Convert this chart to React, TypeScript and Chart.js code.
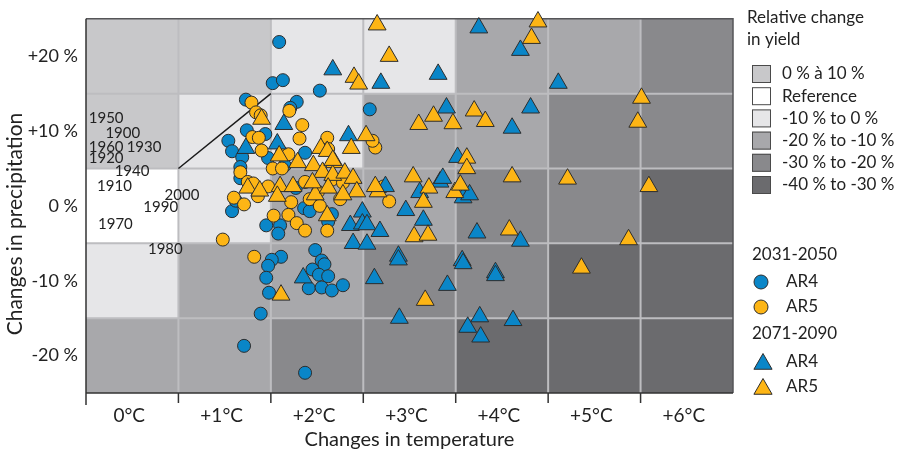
import React, { useEffect, useRef } from 'react';
import { Chart, registerables } from 'chart.js';

Chart.register(...registerables);

const FONT_FAMILY = 'Lato, "Open Sans", "DejaVu Sans", sans-serif';
const TEXT = '#222222';
const BLUE = '#0a86c8';
const ORANGE = '#fdb515';
const MARK_BORDER = '#2d2d2d';

// Axes
const tempTicks = [0, 1, 2, 3, 4, 5, 6];
const tempTickLabels = ['0°C', '+1°C', '+2°C', '+3°C', '+4°C', '+5°C', '+6°C'];
const precipTicks = [-20, -10, 0, 10, 20];
const precipTickLabels = ['-20 %', '-10 %', '0 %', '+10 %', '+20 %'];
const xTitle = 'Changes in temperature';
const yTitle = 'Changes in precipitation';

// Yield-change grid (cells)
const tempEdges = [-0.5, 0.5, 1.5, 2.5, 3.5, 4.5, 5.5, 6.5];
const precipEdges = [25, 15, 5, -5, -15, -25];
const yieldClassLabels = ['0 % à 10 %', 'Reference', '-10 % to 0 %', '-20 % to -10 %', '-30 % to -20 %', '-40 % to -30 %'];
const yieldClassColors = ['#c8c8ca', '#ffffff', '#e6e6e8', '#a8a8ab', '#89898c', '#6b6b6e'];
const yieldRow1 = [0, 0, 2, 2, 3, 3, 4];
const yieldRow2 = [0, 2, 2, 3, 3, 4, 4];
const yieldRow3 = [1, 2, 3, 3, 4, 4, 5];
const yieldRow4 = [2, 3, 3, 4, 4, 5, 5];
const yieldRow5 = [3, 3, 4, 4, 5, 5, 5];
const yieldGrid = [yieldRow1, yieldRow2, yieldRow3, yieldRow4, yieldRow5];

// Historical years (text anchors: temperature, precipitation)
const yearLabels = ['1950', '1900', '1960', '1930', '1920', '1940', '1910', '2000', '1990', '1970', '1980'];
const yearTemps = [-0.47, -0.29, -0.47, -0.06, -0.47, -0.19, -0.38, 0.35, 0.12, -0.37, 0.17];
const yearPrecips = [11.7, 9.7, 7.9, 7.9, 6.4, 4.7, 2.7, 1.4, -0.2, -2.4, -5.8];

// Reference diagonal
const referenceLine = [[0.5, 5], [1.5, 15]];

// 2031-2050 AR4 (blue circles) [temperature °C, precipitation %]
const ar4Near = [
  [1.59, 21.9], [1.52, 16.4], [1.63, 16.8], [2.03, 15.4], [2.57, 12.9], [1.23, 14.2], [1.78, 13.9], [1.71, 13.1],
  [1.04, 8.7], [1.08, 7.3], [1.24, 10.1], [1.44, 9.6], [1.19, 6.5], [1.17, 5.2], [1.87, 7.1], [1.47, 6.4],
  [1.17, 3.7], [1.08, -0.7], [1.45, -2.6], [1.60, -2.6], [1.58, -3.7], [1.86, -0.3], [1.92, -0.7], [2.16, -1.1],
  [1.98, -5.9], [1.61, -6.8], [1.51, -7.2], [1.47, -8.0], [1.45, -9.6], [1.48, -11.6], [1.39, -14.4], [1.21, -18.7],
  [1.87, -22.3], [2.05, -7.3], [2.08, -7.8], [1.95, -8.5], [2.02, -9.2], [2.12, -9.4], [1.91, -11.0], [2.05, -10.9],
  [2.16, -11.3], [2.28, -10.6], [1.65, 5.4], [1.12, 0.7], [1.77, 2.4], [2.12, -2.1],
];

// 2031-2050 AR5 (orange circles)
const ar5Near = [
  [1.29, 13.8], [1.34, 12.5], [1.39, 12.1], [1.70, 12.7], [1.84, 10.8], [1.30, 9.2], [1.37, 9.1], [1.40, 7.4],
  [1.81, 9.0], [2.11, 9.1], [1.62, 7.1], [1.69, 6.9], [1.52, 5.0], [1.62, 5.0], [1.17, 4.5], [1.87, 3.2],
  [1.25, 3.2], [1.31, 3.0], [1.47, 2.6], [1.10, 1.1], [1.21, 0.2], [1.72, 0.5], [1.53, -1.3], [1.69, -1.2],
  [1.78, -2.3], [1.87, -3.3], [1.92, 0.9], [2.03, 0.0], [2.11, -3.3], [0.98, -4.5], [1.32, -6.8], [2.63, 7.8],
  [2.60, 8.7], [2.78, 0.6], [2.16, 3.5], [2.28, 3.1], [2.72, 2.6], [2.12, 7.6], [2.01, 1.9], [1.36, 1.3], [2.25, 0.9],
];

// 2071-2090 AR4 (blue triangles)
const ar4Far = [
  [2.17, 18.2], [2.69, 16.4], [3.31, 17.6], [3.75, 23.8], [4.20, 20.8], [4.61, 16.4], [3.40, 13.1], [4.31, 13.1],
  [4.11, 10.4], [2.34, 9.4], [1.64, 10.9], [1.57, 8.3], [1.23, 7.7], [3.52, 6.5], [3.33, 3.2], [3.36, 3.7],
  [3.58, 1.1], [3.65, 1.5], [3.11, 1.8], [2.96, -0.6], [2.74, 2.6], [2.49, -0.8], [2.36, -2.6], [2.49, -2.4],
  [2.54, -2.5], [2.68, -3.4], [2.39, -5.0], [2.54, -5.1], [3.15, -1.9], [2.88, -6.7], [2.88, -7.2], [2.62, -9.7],
  [3.57, -7.3], [3.58, -7.7], [3.41, -10.6], [3.73, -3.6], [4.20, -4.7], [3.93, -8.9], [3.93, -9.3], [2.89, -15.0],
  [3.76, -14.8], [3.63, -16.2], [3.77, -17.5], [4.12, -15.3], [1.85, -9.6],
];

// 2071-2090 AR5 (orange triangles)
const ar5Far = [
  [2.65, 24.2], [2.78, 20.0], [4.39, 24.6], [4.32, 22.4], [2.40, 17.2], [2.45, 16.3], [3.26, 12.0], [3.10, 10.9],
  [3.47, 11.0], [3.70, 12.7], [3.82, 11.3], [5.51, 14.4], [5.47, 11.2], [2.53, 9.4], [2.37, 7.7], [1.40, 11.6],
  [3.62, 6.4], [3.62, 5.0], [4.11, 3.9], [4.71, 3.6], [5.59, 2.6], [3.04, 3.9], [3.21, 2.4], [3.49, 1.8],
  [3.55, 2.8], [3.15, 0.5], [2.66, 1.9], [3.05, -4.1], [3.20, -3.9], [4.08, -3.2], [5.37, -4.5], [4.86, -8.3],
  [3.17, -12.6], [1.61, -11.9], [2.04, 7.7], [2.11, 7.3], [1.59, 6.7], [2.19, 5.8], [1.79, 5.8], [1.96, 5.4],
  [1.60, 2.6], [1.74, 2.6], [2.06, 4.5], [2.17, 4.1], [2.30, 4.4], [2.39, 3.7], [1.25, 2.4], [1.38, 2.0],
  [1.57, 1.3], [1.98, 1.5], [2.12, 2.4], [2.43, 1.9], [2.63, 2.6], [2.28, 1.5], [2.11, -1.3], [2.17, 6.1], [1.95, 3.1],
];

const toXY = (arr: number[][]) => arr.map(([x, y]) => ({ x, y }));

function trianglePath(ctx: CanvasRenderingContext2D, x: number, y: number, r: number) {
  ctx.beginPath();
  ctx.moveTo(x, y - r);
  ctx.lineTo(x + r * 0.866, y + r / 2);
  ctx.lineTo(x - r * 0.866, y + r / 2);
  ctx.closePath();
}

const gridPlugin = {
  id: 'yieldGrid',
  beforeDatasetsDraw(chart: any) {
    const { ctx, chartArea: a, scales } = chart;
    const xs = scales.x;
    const ys = scales.y;
    ctx.save();
    yieldGrid.forEach((row, r) =>
      row.forEach((cls, c) => {
        const x0 = xs.getPixelForValue(tempEdges[c]);
        const x1 = xs.getPixelForValue(tempEdges[c + 1]);
        const y0 = ys.getPixelForValue(precipEdges[r]);
        const y1 = ys.getPixelForValue(precipEdges[r + 1]);
        ctx.fillStyle = yieldClassColors[cls];
        ctx.fillRect(x0, y0, x1 - x0, y1 - y0);
      })
    );
    ctx.strokeStyle = '#bdbdc0';
    ctx.lineWidth = 2;
    ctx.beginPath();
    for (let i = 1; i < tempEdges.length - 1; i++) {
      const px = xs.getPixelForValue(tempEdges[i]);
      ctx.moveTo(px, a.top);
      ctx.lineTo(px, a.bottom);
    }
    for (let i = 1; i < precipEdges.length - 1; i++) {
      const py = ys.getPixelForValue(precipEdges[i]);
      ctx.moveTo(a.left, py);
      ctx.lineTo(a.right, py);
    }
    ctx.stroke();

    ctx.strokeStyle = '#555558';
    ctx.lineWidth = 1.5;
    ctx.beginPath();
    ctx.moveTo(a.left, a.top);
    ctx.lineTo(a.right, a.top);
    ctx.lineTo(a.right, a.bottom);
    ctx.stroke();

    ctx.strokeStyle = '#333333';
    ctx.beginPath();
    ctx.moveTo(a.left, a.top);
    ctx.lineTo(a.left, a.bottom + 12);
    ctx.moveTo(a.left, a.bottom);
    ctx.lineTo(a.right, a.bottom);
    for (let i = 1; i < tempEdges.length - 1; i++) {
      const px = xs.getPixelForValue(tempEdges[i]);
      ctx.moveTo(px, a.bottom);
      ctx.lineTo(px, a.bottom + 10);
    }
    ctx.stroke();

    ctx.fillStyle = TEXT;
    ctx.font = `15px ${FONT_FAMILY}`;
    ctx.textAlign = 'left';
    ctx.textBaseline = 'middle';
    yearLabels.forEach((t, i) => {
      ctx.fillText(t, xs.getPixelForValue(yearTemps[i]), ys.getPixelForValue(yearPrecips[i]));
    });
    ctx.restore();
  },
  afterDraw(chart: any) {
    const { ctx, chartArea: a } = chart;
    ctx.save();
    // y-axis title
    ctx.fillStyle = TEXT;
    ctx.font = `21px ${FONT_FAMILY}`;
    ctx.textAlign = 'center';
    ctx.textBaseline = 'middle';
    ctx.translate(15, 224);
    ctx.rotate(-Math.PI / 2);
    ctx.fillText(yTitle, 0, 0);
    ctx.restore();

    const lx = a.right + 14;
    ctx.save();
    ctx.fillStyle = TEXT;
    ctx.font = `17px ${FONT_FAMILY}`;
    ctx.textAlign = 'left';
    ctx.textBaseline = 'middle';
    ctx.fillText('Relative change', lx, 18);
    ctx.fillText('in yield', lx, 40);
    yieldClassLabels.forEach((label, i) => {
      const cy = 74 + i * 22.2;
      ctx.fillStyle = yieldClassColors[i];
      ctx.fillRect(lx + 5, cy - 9, 19, 18);
      ctx.strokeStyle = '#4a4a4a';
      ctx.lineWidth = 1;
      ctx.strokeRect(lx + 5.5, cy - 8.5, 18, 17);
      ctx.fillStyle = TEXT;
      ctx.fillText(label, lx + 35, cy);
    });

    const series = [
      { head: '2031-2050', y: 255 },
      { shape: 'circle', color: BLUE, label: 'AR4', y: 282 },
      { shape: 'circle', color: ORANGE, label: 'AR5', y: 307 },
      { head: '2071-2090', y: 334 },
      { shape: 'triangle', color: BLUE, label: 'AR4', y: 362 },
      { shape: 'triangle', color: ORANGE, label: 'AR5', y: 387 },
    ];
    series.forEach((s: any) => {
      ctx.fillStyle = TEXT;
      if (s.head) {
        ctx.fillText(s.head, lx + 5, s.y);
        return;
      }
      ctx.fillStyle = s.color;
      ctx.strokeStyle = MARK_BORDER;
      ctx.lineWidth = 1;
      if (s.shape === 'circle') {
        ctx.beginPath();
        ctx.arc(lx + 14, s.y, 7, 0, Math.PI * 2);
      } else {
        trianglePath(ctx, lx + 16, s.y + 2, 10.5);
      }
      ctx.fill();
      ctx.stroke();
      ctx.fillStyle = TEXT;
      ctx.fillText(s.label, lx + 39, s.y);
    });
    ctx.restore();
  },
};

export default function App() {
  const ref = useRef<HTMLCanvasElement>(null);
  useEffect(() => {
    const pointBase = { borderColor: MARK_BORDER, borderWidth: 1, clip: false as any };
    const chart = new Chart(ref.current as HTMLCanvasElement, {
      type: 'scatter',
      data: {
        datasets: [
          {
            type: 'line',
            label: 'Reference line',
            data: toXY(referenceLine),
            borderColor: '#1a1a1a',
            borderWidth: 1.5,
            pointRadius: 0,
            showLine: true,
            fill: false,
            order: 5,
            clip: false as any,
          } as any,
          { label: '2031-2050 AR4', data: toXY(ar4Near), pointStyle: 'circle', pointRadius: 6.5, backgroundColor: BLUE, order: 4, ...pointBase },
          { label: '2031-2050 AR5', data: toXY(ar5Near), pointStyle: 'circle', pointRadius: 6.5, backgroundColor: ORANGE, order: 3, ...pointBase },
          { label: '2071-2090 AR4', data: toXY(ar4Far), pointStyle: 'triangle', pointRadius: 10.3, backgroundColor: BLUE, order: 2, ...pointBase },
          { label: '2071-2090 AR5', data: toXY(ar5Far), pointStyle: 'triangle', pointRadius: 10.3, backgroundColor: ORANGE, order: 1, ...pointBase },
        ],
      },
      options: {
        responsive: false,
        animation: false,
        devicePixelRatio: 1,
        events: [],
        layout: { padding: { left: 0, right: 172, top: 10, bottom: 0 } },
        plugins: { legend: { display: false }, tooltip: { enabled: false } },
        scales: {
          x: {
            type: 'linear',
            min: -0.5,
            max: 6.5,
            afterBuildTicks: (s: any) => {
              s.ticks = tempTicks.map((v) => ({ value: v }));
            },
            afterFit: (s: any) => {
              s.height = 60;
            },
            grid: { display: false, drawTicks: false },
            border: { display: false },
            ticks: {
              padding: 11,
              labelOffset: -3,
              color: TEXT,
              font: { family: FONT_FAMILY, size: 19 },
              maxRotation: 0,
              autoSkip: false,
              callback: (v: any) => tempTickLabels[tempTicks.indexOf(Number(v))] ?? '',
            },
            title: { display: true, text: xTitle, color: TEXT, font: { family: FONT_FAMILY, size: 20 }, padding: { top: 0, bottom: 1 } },
          },
          y: {
            type: 'linear',
            min: -25,
            max: 25,
            afterBuildTicks: (s: any) => {
              s.ticks = precipTicks.map((v) => ({ value: v }));
            },
            afterFit: (s: any) => {
              s.width = 86;
            },
            grid: { display: false, drawTicks: false },
            border: { display: false },
            ticks: {
              padding: 8,
              color: TEXT,
              font: { family: FONT_FAMILY, size: 18 },
              autoSkip: false,
              callback: (v: any) => precipTickLabels[precipTicks.indexOf(Number(v))] ?? '',
            },
            title: { display: false },
          },
        },
      },
      plugins: [gridPlugin],
    } as any);
    return () => chart.destroy();
  }, []);

  return (
    <div style={{ position: 'fixed', left: 0, top: 0, width: 905, height: 453, background: '#ffffff' }}>
      <canvas ref={ref} width={905} height={453} style={{ width: 905, height: 453, display: 'block' }} />
    </div>
  );
}
